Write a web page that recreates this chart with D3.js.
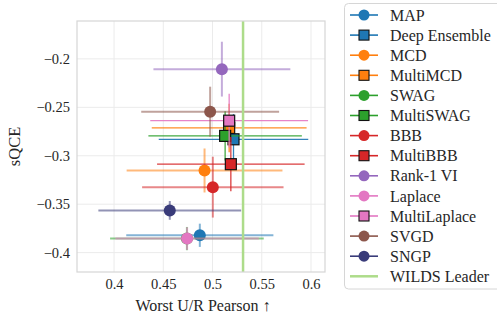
<!DOCTYPE html>
<html>
<head>
<meta charset="utf-8">
<script src="https://cdn.jsdelivr.net/npm/d3@7"></script>
<style>
  body { margin: 0; background: #fff; }
</style>
</head>
<body>
<div class="chart"></div>
<script>
// Methods and their values
var methods = ["MAP", "Deep Ensemble", "MCD", "MultiMCD", "SWAG", "MultiSWAG", "BBB", "MultiBBB",
               "Rank-1 VI", "Laplace", "MultiLaplace", "SVGD", "SNGP"];
var pearson = [0.4871, 0.5213, 0.4919, 0.5169, 0.474, 0.5128, 0.5003, 0.5186, 0.5095, 0.4742, 0.5169, 0.4976, 0.4566];
var pearsonErr = [0.0747, 0.0759, 0.0791, 0.0786, 0.078, 0.0779, 0.0718, 0.0749, 0.0695, 0.0728, 0.0801, 0.07, 0.0725];
var sqce = [-0.3821, -0.283, -0.3152, -0.2713, -0.3855, -0.2795, -0.3324, -0.3087, -0.2106, -0.3855, -0.2638, -0.2545, -0.3564];
var sqceErr = [0.012, 0.026, 0.0227, 0.025, 0.012, 0.0255, 0.0314, 0.028, 0.0283, 0.0116, 0.0277, 0.0258, 0.0097];
var ensembles = ["Deep Ensemble", "MultiMCD", "MultiSWAG", "MultiBBB", "MultiLaplace"];
var wildsLeader = 0.531;

var xTicks = [0.4, 0.45, 0.5, 0.55, 0.6];
var yTicks = [-0.4, -0.35, -0.3, -0.25, -0.2];

var palette = ["#1f77b4", "#1f77b4", "#ff7f0e", "#ff7f0e", "#2ca02c", "#2ca02c", "#d62728", "#d62728",
               "#9467bd", "#e377c2", "#e377c2", "#8c564b", "#393b79"];
var leaderColor = "#addc8a";
var serif = "'Liberation Serif', 'Times New Roman', serif";

var svgWidth = 497, svgHeight = 314;
var plot = { left: 77, right: 325, top: 21, bottom: 272 };

var svg = d3.select(".chart").append("svg")
  .attr("width", svgWidth)
  .attr("height", svgHeight)
  .style("font-family", serif);

var color = d3.scaleOrdinal().domain(methods).range(palette);
var xScale = d3.scaleLinear().domain([0.3624, 0.6142]).range([plot.left, plot.right]);
var yScale = d3.scaleLinear().domain([-0.42, -0.1609]).range([plot.bottom, plot.top]);

var data = methods.map(function(m, i) {
  return { name: m, x: pearson[i], xe: pearsonErr[i], y: sqce[i], ye: sqceErr[i],
           square: ensembles.indexOf(m) >= 0 };
});

// grid
var grid = svg.append("g");
grid.selectAll(".gx").data(xTicks).enter().append("line")
  .attr("x1", function(d) { return xScale(d); }).attr("x2", function(d) { return xScale(d); })
  .attr("y1", plot.top).attr("y2", plot.bottom)
  .attr("stroke", "#ebebeb").attr("stroke-width", 1);
grid.selectAll(".gy").data(yTicks).enter().append("line")
  .attr("y1", function(d) { return yScale(d); }).attr("y2", function(d) { return yScale(d); })
  .attr("x1", plot.left).attr("x2", plot.right)
  .attr("stroke", "#ebebeb").attr("stroke-width", 1);

// axes (labels only, no tick marks)
var fmt = function(d) { return String(d).replace("-", "\u2212"); };
var bottomAxis = d3.axisBottom(xScale).tickValues(xTicks).tickFormat(fmt).tickSize(0).tickPadding(7);
var leftAxis = d3.axisLeft(yScale).tickValues(yTicks).tickFormat(fmt).tickSize(0).tickPadding(7);

var gx = svg.append("g").attr("transform", "translate(0," + plot.bottom + ")").call(bottomAxis);
var gy = svg.append("g").attr("transform", "translate(" + plot.left + ",0)").call(leftAxis);
[gx, gy].forEach(function(g) {
  g.attr("font-family", null).attr("font-size", null);
  g.select(".domain").remove();
  g.selectAll("text").style("font-family", serif).style("font-size", "14.5px").attr("fill", "#262626");
});

// points with error bars, in drawing order
var marks = svg.append("g");
data.forEach(function(d) {
  var g = marks.append("g");
  var c = color(d.name);
  var w = d.square ? 1.3 : 2;
  var op = d.square ? 0.9 : 0.55;
  g.append("line")
    .attr("x1", xScale(d.x - d.xe)).attr("x2", xScale(d.x + d.xe))
    .attr("y1", yScale(d.y)).attr("y2", yScale(d.y))
    .attr("stroke", c).attr("stroke-width", w).attr("stroke-opacity", op);
  g.append("line")
    .attr("x1", xScale(d.x)).attr("x2", xScale(d.x))
    .attr("y1", yScale(d.y - d.ye)).attr("y2", yScale(d.y + d.ye))
    .attr("stroke", c).attr("stroke-width", w).attr("stroke-opacity", op);
  if (d.square) {
    g.append("rect")
      .attr("x", xScale(d.x) - 5.5).attr("y", yScale(d.y) - 5.5)
      .attr("width", 11).attr("height", 11)
      .attr("fill", c).attr("stroke", "#111").attr("stroke-width", 1.2);
  } else {
    g.append("circle")
      .attr("cx", xScale(d.x)).attr("cy", yScale(d.y)).attr("r", 6)
      .attr("fill", c);
  }
});

// WILDS leader
svg.append("line")
  .attr("x1", xScale(wildsLeader)).attr("x2", xScale(wildsLeader))
  .attr("y1", plot.top).attr("y2", plot.bottom)
  .attr("stroke", leaderColor).attr("stroke-width", 2.5);

// frame
svg.append("rect")
  .attr("x", plot.left).attr("y", plot.top)
  .attr("width", plot.right - plot.left).attr("height", plot.bottom - plot.top)
  .attr("fill", "none").attr("stroke", "#d6d6d6").attr("stroke-width", 1.2);

// axis titles
svg.append("text")
  .attr("x", (plot.left + plot.right) / 2 + 2).attr("y", 310.5)
  .attr("text-anchor", "middle").style("font-size", "16px").attr("fill", "#262626")
  .text("Worst U/R Pearson \u2191");
svg.append("text")
  .attr("transform", "translate(20," + ((plot.top + plot.bottom) / 2) + ") rotate(-90)")
  .attr("text-anchor", "middle").style("font-size", "16.5px").attr("fill", "#262626")
  .text("sQCE");

// legend
var legend = svg.append("g");
legend.append("rect")
  .attr("x", 344.5).attr("y", 3.5).attr("width", 170).attr("height", 285.5)
  .attr("rx", 4).attr("fill", "#fff").attr("fill-opacity", 0.8)
  .attr("stroke", "#d6d6d6").attr("stroke-width", 1);

var items = data.concat([{ name: "WILDS Leader", leader: true }]);
var rows = legend.selectAll(".item").data(items).enter().append("g")
  .attr("transform", function(d, i) { return "translate(0," + (15 + i * 20.1) + ")"; });
rows.append("line")
  .attr("x1", 350).attr("x2", 378).attr("y1", 0).attr("y2", 0)
  .attr("stroke", function(d) { return d.leader ? leaderColor : color(d.name); })
  .attr("stroke-width", function(d) { return d.leader ? 2.5 : 1.6; });
rows.filter(function(d) { return !d.leader && !d.square; }).append("circle")
  .attr("cx", 364).attr("cy", 0).attr("r", 5.5)
  .attr("fill", function(d) { return color(d.name); });
rows.filter(function(d) { return d.square; }).append("rect")
  .attr("x", 359).attr("y", -5).attr("width", 10).attr("height", 10)
  .attr("fill", function(d) { return color(d.name); })
  .attr("stroke", "#111").attr("stroke-width", 1.1);
rows.append("text")
  .attr("x", 390).attr("y", 0).attr("dy", "0.35em")
  .style("font-size", "16px").attr("fill", "#262626")
  .text(function(d) { return d.name; });
</script>
</body>
</html>
